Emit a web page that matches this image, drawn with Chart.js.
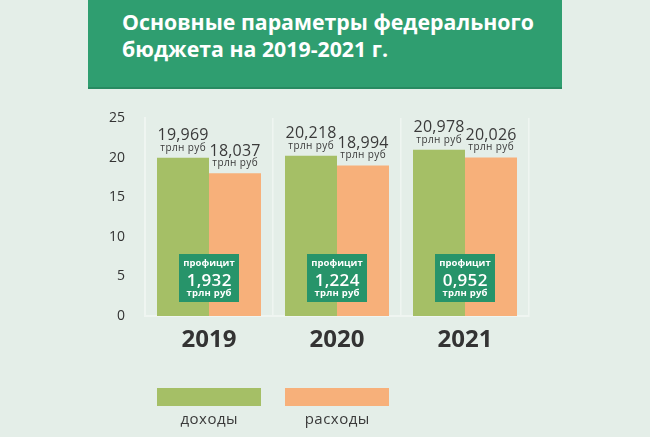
<!DOCTYPE html>
<html lang="ru">
<head>
<meta charset="utf-8">
<title>Основные параметры федерального бюджета</title>
<script src="https://cdn.jsdelivr.net/npm/chart.js@4"></script>
<style>
    html, body {
        margin: 0;
        padding: 0;
        background: #e4eee8;
    }
    #wrap {
        position: relative;
        width: 650px;
        height: 437px;
        overflow: hidden;
    }
    #header {
        position: absolute;
        left: 88px;
        top: 0;
        width: 474px;
        height: 87px;
        background: #2f9e70;
        border-bottom: 2px solid #288a61;
    }
    #header h1 {
        margin: 0;
        position: absolute;
        left: 34px;
        top: 8px;
        font-family: "Open Sans", sans-serif;
        font-weight: 700;
        font-size: 21.3px;
        line-height: 27px;
        color: #ffffff;
    }
    #chart {
        position: absolute;
        left: 0;
        top: 0;
    }
</style>
</head>
<body>
<div id="wrap">
    <canvas id="chart" width="650" height="437"></canvas>
    <div id="header"><h1>Основные параметры федерального<br>бюджета на 2019-2021 г.</h1></div>
</div>
<script>
const years = ['2019', '2020', '2021'];
const income = [19.969, 20.218, 20.978];
const expenses = [18.037, 18.994, 20.026];
const surplus = [1.932, 1.224, 0.952];
const seriesNames = ['доходы', 'расходы'];
const yTicks = [0, 5, 10, 15, 20, 25];

const fmt = v => v.toFixed(3).replace('.', ',');

// centred text with letter spacing (canvas adds the spacing after the last glyph too)
function spacedText(ctx, text, x, y, font, spacing) {
    ctx.font = font;
    ctx.letterSpacing = spacing + 'px';
    ctx.fillText(text, x + spacing / 2, y);
}

// value labels, surplus boxes and the legend under the years
const extrasPlugin = {
    id: 'extras',
    afterDatasetsDraw(chart) {
        const ctx = chart.ctx;
        const xScale = chart.scales.x;
        const area = chart.chartArea;
        ctx.save();
        ctx.textAlign = 'center';
        ctx.textBaseline = 'middle';

        // value above each bar
        chart.data.datasets.forEach((ds, i) => {
            chart.getDatasetMeta(i).data.forEach((bar, j) => {
                ctx.fillStyle = '#3a3a3a';
                spacedText(ctx, fmt(ds.data[j]), bar.x, bar.y - 22, '16px "Open Sans"', 0.2);
                spacedText(ctx, 'трлн руб', bar.x, bar.y - 10, '10px "Open Sans"', 0.4);
            });
        });

        // surplus boxes
        surplus.forEach((v, j) => {
            const cx = xScale.getPixelForValue(j);
            const bottom = area.bottom - 14;
            const top = bottom - 48;
            ctx.fillStyle = '#27946a';
            ctx.fillRect(cx - 30, top, 60, 48);
            ctx.fillStyle = '#ffffff';
            spacedText(ctx, 'профицит', cx, top + 9, 'bold 9.5px "Open Sans"', 0);
            spacedText(ctx, fmt(v), cx, top + 27, '600 17px "Open Sans"', 0.3);
            spacedText(ctx, 'трлн руб', cx, top + 39, 'bold 9.5px "Open Sans"', 0.2);
        });

        // legend
        chart.data.datasets.forEach((ds, i) => {
            const cx = xScale.getPixelForValue(i);
            const bar = chart.getDatasetMeta(i).data[0];
            const half = bar.width;
            ctx.fillStyle = ds.backgroundColor;
            ctx.fillRect(cx - half, area.bottom + 72, half * 2, 18);
            ctx.fillStyle = '#3a3a3a';
            spacedText(ctx, ds.label, cx, area.bottom + 104, '15px "Open Sans"', 0.5);
        });
        ctx.restore();
    }
};

new Chart(document.getElementById('chart'), {
    type: 'bar',
    data: {
        labels: years,
        datasets: [
            {
                label: seriesNames[0],
                data: income,
                backgroundColor: '#a5bf66',
                barPercentage: 1.0,
                categoryPercentage: 0.8125
            },
            {
                label: seriesNames[1],
                data: expenses,
                backgroundColor: '#f7b07a',
                barPercentage: 1.0,
                categoryPercentage: 0.8125
            }
        ]
    },
    options: {
        responsive: false,
        animation: false,
        devicePixelRatio: 1,
        layout: {
            padding: { left: 0, right: 121, top: 118, bottom: 0 }
        },
        plugins: {
            legend: { display: false },
            tooltip: { enabled: false }
        },
        scales: {
            x: {
                grid: {
                    offset: true,
                    drawTicks: false,
                    color: '#eff5f1',
                    lineWidth: 1.5
                },
                border: { color: '#eff5f1', width: 2 },
                ticks: {
                    color: '#333333',
                    padding: 10,
                    font: { family: 'Open Sans', weight: 'bold', size: 24 }
                },
                afterFit(scale) { scale.height = 121; }
            },
            y: {
                min: 0,
                max: 25,
                afterBuildTicks(scale) {
                    scale.ticks = yTicks.map(v => ({ value: v }));
                },
                grid: { display: false },
                border: { color: '#eff5f1', width: 2 },
                ticks: {
                    color: '#333333',
                    padding: 12,
                    font: { family: 'Open Sans', size: 14 }
                },
                afterFit(scale) { scale.width = 145; }
            }
        }
    },
    plugins: [extrasPlugin]
});
</script>
</body>
</html>
